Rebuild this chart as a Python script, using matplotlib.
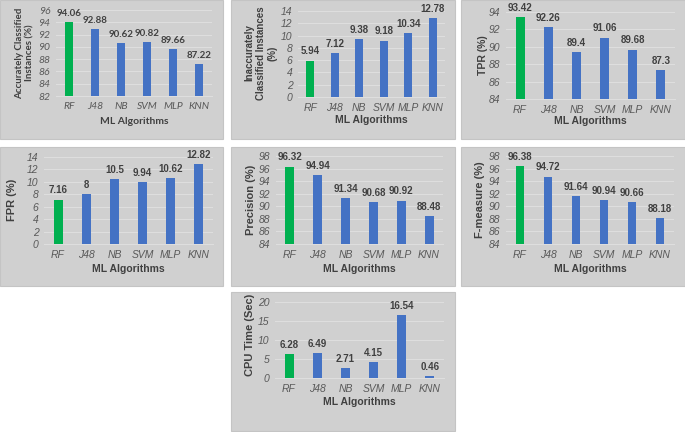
import matplotlib.pyplot as plt
from matplotlib.patches import Rectangle

# Data
algorithms = ['RF', 'J48', 'NB', 'SVM', 'MLP', 'KNN']
accurate = [94.06, 92.88, 90.62, 90.82, 89.66, 87.22]
inaccurate = [5.94, 7.12, 9.38, 9.18, 10.34, 12.78]
tpr = [93.42, 92.26, 89.4, 91.06, 89.68, 87.3]
fpr = [7.16, 8, 10.5, 9.94, 10.62, 12.82]
precision = [96.32, 94.94, 91.34, 90.68, 90.92, 88.48]
fmeasure = [96.38, 94.72, 91.64, 90.94, 90.66, 88.18]
cpu_time = [6.28, 6.49, 2.71, 4.15, 16.54, 0.46]

W, H = 685, 432
GREEN = '#00b050'
BLUE = '#4472c4'
DARK = '#404040'
TICK = '#595959'

# values, ylabel, (ymin, ymax, step), axes px (l, t, r, b), box px, ylabel xy px,
# xlabel y px, font, ylabel size
panels = [
    (accurate, 'Accurately Classified\nInstances (%)', (82, 96, 2), (56, 10, 212, 96),
     (0, 0, 223, 139), (25, 53), 121, 'Lato', 7),
    (inaccurate, 'Inaccurately\nClassified Instances\n(%)', (0, 14, 2), (298, 11, 445, 97),
     (231, 0, 455, 139), (261, 53), 120, 'Liberation Sans', 7),
    (tpr, 'TPR (%)', (84, 94, 2), (506, 12, 675, 99),
     (461, 0, 685, 139), (483, 55), 121, 'Liberation Sans', 7.5),
    (fpr, 'FPR (%)', (0, 14, 2), (44, 157, 213, 244),
     (0, 147, 223, 286), (12, 200), 269, 'Liberation Sans', 8),
    (precision, 'Precision (%)', (84, 98, 2), (276, 156, 443, 244),
     (231, 147, 455, 286), (251, 200), 269, 'Liberation Sans', 8),
    (fmeasure, 'F-measure (%)', (84, 98, 2), (506, 156, 674, 244),
     (461, 147, 685, 286), (480, 200), 269, 'Liberation Sans', 8),
    (cpu_time, 'CPU Time (Sec)', (0, 20, 5), (275, 302, 444, 378),
     (231, 292, 455, 431), (250, 335), 402, 'Liberation Sans', 8),
]

fig = plt.figure(figsize=(W / 100, H / 100), dpi=100)
fig.patch.set_facecolor('white')

for vals, ylab, (ymin, ymax, step), (l, t, r, b), (bl, bt, br, bb), (yx, yy), xly, font, ysz in panels:
    # gray panel background
    fig.add_artist(Rectangle((bl / W, 1 - bb / H), (br - bl) / W, (bb - bt) / H,
                             transform=fig.transFigure, facecolor='#d0d0d0',
                             edgecolor='#c4c4c4', linewidth=0.8, zorder=0))

    ax = fig.add_axes([l / W, 1 - b / H, (r - l) / W, (b - t) / H])
    ax.set_facecolor('none')
    colors = [GREEN] + [BLUE] * (len(vals) - 1)
    x = range(len(vals))
    bars = ax.bar(x, vals, width=0.32, color=colors, zorder=3)
    ax.set_ylim(ymin, ymax)
    ax.set_xlim(-0.5, len(vals) - 0.5)
    ax.set_yticks(range(ymin, ymax + 1, step))
    ax.set_xticks(list(x))
    ax.set_xticklabels(algorithms)
    ax.grid(axis='y', color='#dedede', linewidth=0.8, zorder=0)
    for s in ['top', 'right', 'left']:
        ax.spines[s].set_visible(False)
    ax.spines['bottom'].set_color('#dedede')
    ax.tick_params(length=0, labelsize=7.5, labelcolor=TICK)
    ax.tick_params(axis='x', pad=4)
    ax.tick_params(axis='y', pad=4)
    for lab in ax.get_xticklabels() + ax.get_yticklabels():
        lab.set_fontstyle('italic')
        lab.set_fontfamily(font)

    for bar, v in zip(bars, vals):
        ax.annotate(f'{v:g}', (bar.get_x() + bar.get_width() / 2, v),
                    xytext=(0, 3), textcoords='offset points', ha='center', va='bottom',
                    fontsize=7, fontweight='bold', color=DARK, family=font,
                    annotation_clip=False)

    fig.text((l + r) / 2 / W, 1 - xly / H, 'ML Algorithms', ha='center', va='center',
             fontsize=7.5, fontweight='bold', color=DARK, family=font)
    fig.text(yx / W, 1 - yy / H, ylab, rotation=90, ha='center', va='center',
             multialignment='center', fontsize=ysz, fontweight='bold', color=DARK,
             family=font, linespacing=1.25)

fig.savefig('out.png', dpi=100)
